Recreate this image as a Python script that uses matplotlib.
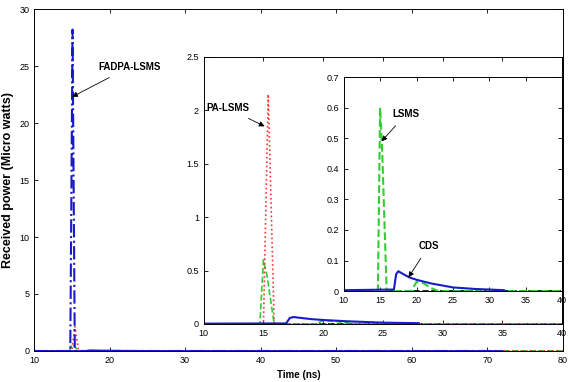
import matplotlib
matplotlib.use("Agg")
import matplotlib.pyplot as plt

plt.rcParams['font.family'] = ['Liberation Sans Narrow', 'Liberation Sans', 'DejaVu Sans']

# FADPA-LSMS (blue dash-dot), big spike at ~15 ns
fadpa_t = [10, 14.8, 15.1, 15.4, 72]
fadpa_p = [0, 0, 28.2, 0, 0]

# PA-LSMS (red dotted)
pa_t = [10, 15.0, 15.4, 15.9, 80]
pa_p = [0, 0, 2.15, 0, 0]

# LSMS (green dashed)
lsms_t = [10, 14.7, 15.0, 15.3, 15.9, 19.3, 20.0, 21.0, 22.0, 23.0, 80]
lsms_p = [0, 0, 0.6, 0.45, 0, 0, 0.03, 0.025, 0.01, 0, 0]

# CDS (solid blue)
cds_t = [10, 16.9, 17.2, 17.5, 18, 19, 20, 22, 25, 28, 30, 32]
cds_p = [0.003, 0.005, 0.055, 0.065, 0.058, 0.045, 0.037, 0.025, 0.012, 0.007, 0.005, 0.003]

# other near-zero trace (black dashed)
base_t = [16, 80]
base_p = [0, 0]

blue = '#1a1acc'
green = '#33cc33'
red = '#ff3333'


def style(ax, xticks, yticks, ylabels, fs=6.5):
    ax.set_xticks(xticks)
    ax.set_yticks(yticks)
    ax.set_yticklabels(ylabels)
    ax.tick_params(direction='in', top=True, right=True, labelsize=fs, length=3, width=0.6)
    for s in ax.spines.values():
        s.set_linewidth(0.7)


def arrow(ax, text, xy, xytext, ha='center'):
    ax.annotate(text, xy=xy, xytext=xytext, fontsize=7, fontweight='bold',
                ha=ha, va='center',
                arrowprops=dict(arrowstyle='-|>', color='black', lw=0.6,
                                mutation_scale=8, shrinkA=4, shrinkB=0))


fig = plt.figure(figsize=(5.69, 3.82), dpi=100)

# main axes
ax = fig.add_axes([0.0598, 0.0812, 0.929, 0.895])
ax.plot(base_t, base_p, '--', color='black', lw=1.2)
ax.plot(lsms_t, lsms_p, '--', color=green, lw=1.2)
ax.plot(pa_t, pa_p, ':', color=red, lw=1.2)
ax.plot(cds_t + [72], cds_p + [0], '-', color=blue, lw=1.2)
ax.plot(fadpa_t, fadpa_p, '-.', color=blue, lw=1.5)
ax.set_xlim(10, 80)
ax.set_ylim(0, 30)
style(ax, range(10, 81, 10), range(0, 31, 5), [str(v) for v in range(0, 31, 5)])
ax.set_xlabel('Time (ns)', fontsize=7, fontweight='bold', labelpad=4)
ax.set_ylabel('Received power (Micro watts)', fontsize=9, fontweight='bold', labelpad=4)
arrow(ax, 'FADPA-LSMS', (15.05, 22.3), (22.6, 24.9))

# first inset
ax1 = fig.add_axes([0.358, 0.152, 0.630, 0.699])
ax1.plot(base_t, base_p, '--', color='black', lw=1.2)
ax1.plot(lsms_t, lsms_p, '--', color=green, lw=1.2)
ax1.plot(pa_t, pa_p, ':', color=red, lw=1.2)
ax1.plot(cds_t[:-2], cds_p[:-2], '-', color=blue, lw=1.5)
ax1.set_xlim(10, 40)
ax1.set_ylim(0, 2.5)
style(ax1, range(10, 41, 5), [0, 0.5, 1, 1.5, 2, 2.5], ['0', '0.5', '1', '1.5', '2', '2.5'])
arrow(ax1, 'PA-LSMS', (15.1, 1.85), (10.2, 2.02), ha='left')

# second inset
ax2 = fig.add_axes([0.604, 0.238, 0.384, 0.560])
ax2.plot(base_t, base_p, '--', color='black', lw=1.2)
ax2.plot(lsms_t, lsms_p, '--', color=green, lw=1.5)
ax2.plot(cds_t, cds_p, '-', color=blue, lw=1.5)
ax2.set_xlim(10, 40)
ax2.set_ylim(0, 0.7)
yt = [0, 0.1, 0.2, 0.3, 0.4, 0.5, 0.6, 0.7]
style(ax2, range(10, 41, 5), yt, ['0'] + ['%.1f' % v for v in yt[1:]])
arrow(ax2, 'LSMS', (15.2, 0.49), (18.6, 0.58))
arrow(ax2, 'CDS', (18.9, 0.045), (21.7, 0.148))

fig.savefig('out.png', dpi=100)
